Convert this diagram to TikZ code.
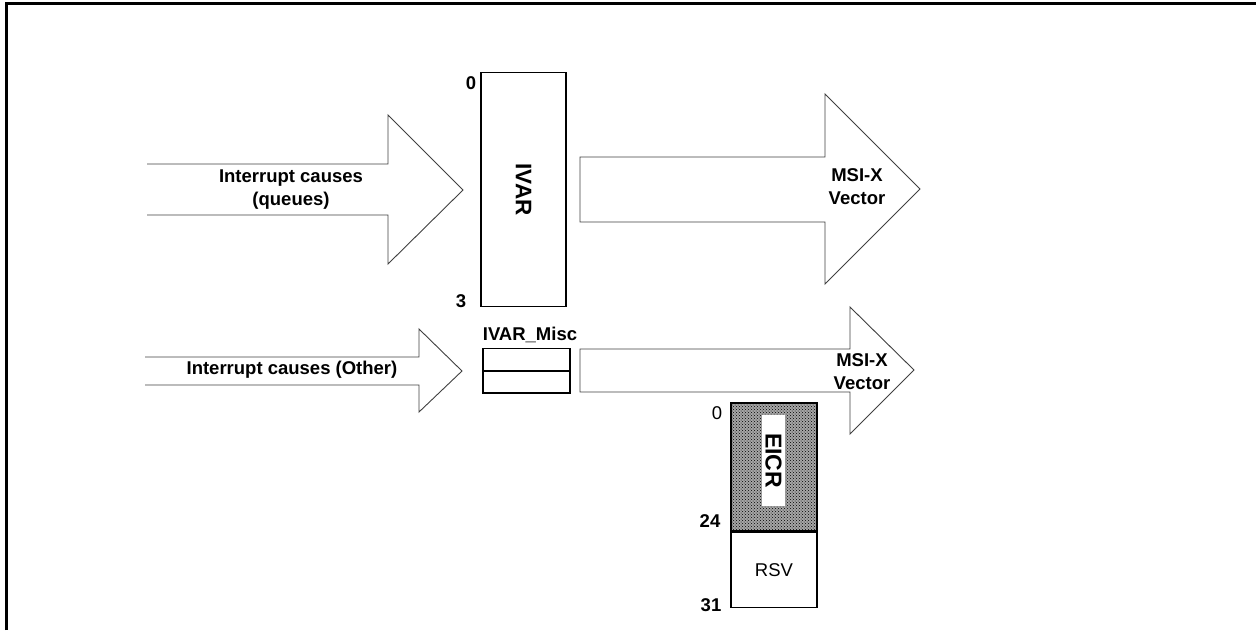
\documentclass[tikz,border=0pt]{standalone}
\usepackage{fontspec}
\setmainfont{Liberation Sans}
\usetikzlibrary{positioning, patterns}

\begin{document}
\begin{tikzpicture}[
  x=1pt, y=-1pt,
  font=\fontsize{18.5}{23}\selectfont\bfseries,
  bigarrow/.style={draw=black!75, line width=0.9pt, fill=white, line join=miter},
  reg/.style={draw, line width=1.4pt, fill=white, inner sep=0pt},
  txt/.style={inner sep=0pt, align=center},
  bignum/.style={inner sep=0pt},
  vert/.style={inner sep=0pt, rotate=-90, font=\fontsize{22.5}{26}\selectfont\bfseries}
]
\useasboundingbox (0,0) rectangle (1256,630);
% frame
\draw[line width=2.5pt] (6.5,630) -- (6.5,3.5) -- (1256,3.5);

% arrows
\draw[bigarrow] (147,164) -- (388,164) -- (388,115) -- (463,190) -- (388,264) -- (388,215) -- (147,215);
\draw[bigarrow] (580,157) -- (825,157) -- (825,94) -- (920,189) -- (825,284) -- (825,222) -- (580,222) -- cycle;
\draw[bigarrow] (145,357) -- (419,357) -- (419,329) -- (462,371) -- (419,412) -- (419,385) -- (145,385);
\draw[bigarrow] (580,349) -- (850,349) -- (850,307) -- (914,370) -- (850,434) -- (850,392) -- (580,392) -- cycle;

\node[txt] (qtxt) at (291,190) {Interrupt causes\\(queues)};
\node[txt] (otxt) at (292,370) {Interrupt causes (Other)};
\node[txt] (msi) at (857,187) {MSI-X\\Vector};
\node[txt] (msimisc) at (862,372) {MSI-X\\Vector};

% registers
\node[reg, minimum width=85, minimum height=234] (ivar) at (523.5,189.5) {};
\node[vert] at (ivar.center) {IVAR};
\node[bignum] at (471,83) {0};
\node[bignum] at (461,301) {3};

\node[reg, minimum width=87, minimum height=21.5] (misctop) at (526.5,359.5) {};
\node[reg, minimum width=87, minimum height=21.5, below=0pt of misctop] (miscbot) {};
\node[txt] at (530,335) {IVAR\_Misc};

\node[reg, minimum width=86, minimum height=128, preaction={fill=gray!70},
  pattern=crosshatch dots, pattern color=black] (eicr) at (774,467) {};
\node[vert, fill=white, minimum width=91, minimum height=23, font=\fontsize{23}{26}\selectfont\bfseries] (eicrlbl) at (773.5,460.5) {EICR};
\node[reg, minimum width=86, minimum height=75, below=0pt of eicr, font=\fontsize{18.5}{22}\selectfont\mdseries] (rsv) {RSV};
\draw[line width=2.2pt] (eicr.south west) -- (eicr.south east);
\node[bignum, font=\fontsize{18.5}{22}\selectfont\mdseries] at (717,413) {0};
\node[bignum] at (710,521) {24};
\node[bignum] at (711,605) {31};
\end{tikzpicture}
\end{document}
